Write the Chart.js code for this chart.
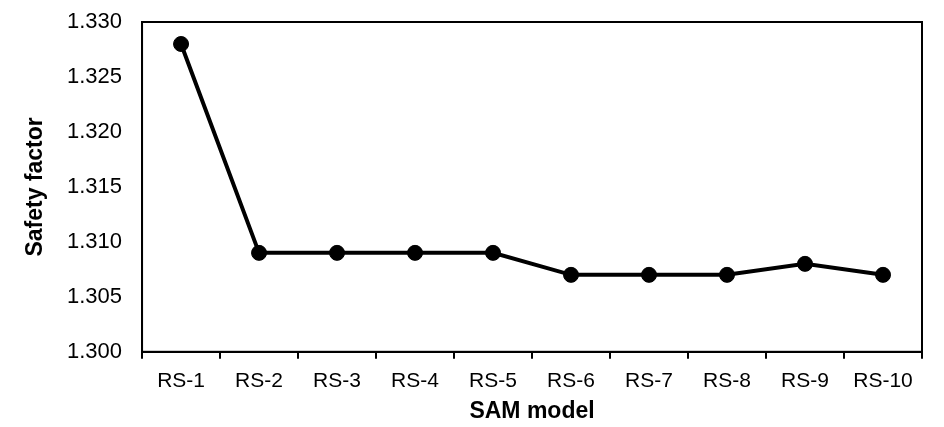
<!DOCTYPE html>
<html>
<head>
<meta charset="utf-8">
<script src="https://cdn.jsdelivr.net/npm/chart.js@4"></script>
<style>
  html, body { margin: 0; padding: 0; background: #fff; }
  #wrap { width: 944px; height: 427px; }
</style>
</head>
<body>
<div id="wrap"><canvas id="myChart"></canvas></div>
<script>
const models = ['RS-1', 'RS-2', 'RS-3', 'RS-4', 'RS-5', 'RS-6', 'RS-7', 'RS-8', 'RS-9', 'RS-10'];
const safetyFactor = [1.328, 1.309, 1.309, 1.309, 1.309, 1.307, 1.307, 1.307, 1.308, 1.307];
const yMin = 1.300;
const yMax = 1.330;
const yStep = 0.005;

const fontFamily = '"Liberation Sans", Arial, sans-serif';

// box round the plot area
const frame = {
  id: 'frame',
  afterDraw(chart) {
    const { ctx, chartArea } = chart;
    ctx.save();
    ctx.strokeStyle = '#000';
    ctx.lineWidth = 2;
    ctx.strokeRect(chartArea.left, chartArea.top, chartArea.right - chartArea.left, chartArea.bottom - chartArea.top);
    ctx.restore();
  }
};

const ctx = document.getElementById('myChart').getContext('2d');
new Chart(ctx, {
  type: 'line',
  data: {
    labels: models,
    datasets: [{
      label: 'Safety factor',
      data: safetyFactor,
      borderColor: '#000',
      backgroundColor: '#000',
      borderWidth: 4,
      pointRadius: 7.5,
      pointBorderWidth: 1,
      pointBackgroundColor: '#000',
      tension: 0
    }]
  },
  options: {
    responsive: true,
    maintainAspectRatio: false,
    animation: false,
    layout: { padding: { left: 24, right: 22, top: 22, bottom: 4 } },
    plugins: {
      legend: { display: false },
      tooltip: { enabled: false }
    },
    scales: {
      x: {
        offset: true,
        grid: {
          offset: true,
          drawOnChartArea: false,
          drawTicks: true,
          tickLength: 7,
          color: '#000',
          lineWidth: 2
        },
        border: { display: true, color: '#000', width: 2 },
        ticks: {
          color: '#000',
          font: { family: fontFamily, size: 21 },
          padding: 10,
          maxRotation: 0,
          autoSkip: false
        },
        title: {
          display: true,
          text: 'SAM model',
          color: '#000',
          font: { family: fontFamily, size: 23, weight: 'bold', lineHeight: 1 },
          padding: { top: -4, bottom: 0 }
        }
      },
      y: {
        min: yMin,
        max: yMax,
        afterFit: (scale) => { scale.paddingTop = 0; },
        grid: { display: false, drawTicks: false },
        border: { display: true, color: '#000', width: 2 },
        ticks: {
          stepSize: yStep,
          color: '#000',
          font: { family: fontFamily, size: 22 },
          padding: 20,
          callback: (v) => v.toFixed(3)
        },
        title: {
          display: true,
          text: 'Safety factor',
          color: '#000',
          font: { family: fontFamily, size: 23, weight: 'bold', lineHeight: 1 },
          padding: { top: 0, bottom: 0 }
        }
      }
    }
  },
  plugins: [frame]
});
</script>
</body>
</html>
